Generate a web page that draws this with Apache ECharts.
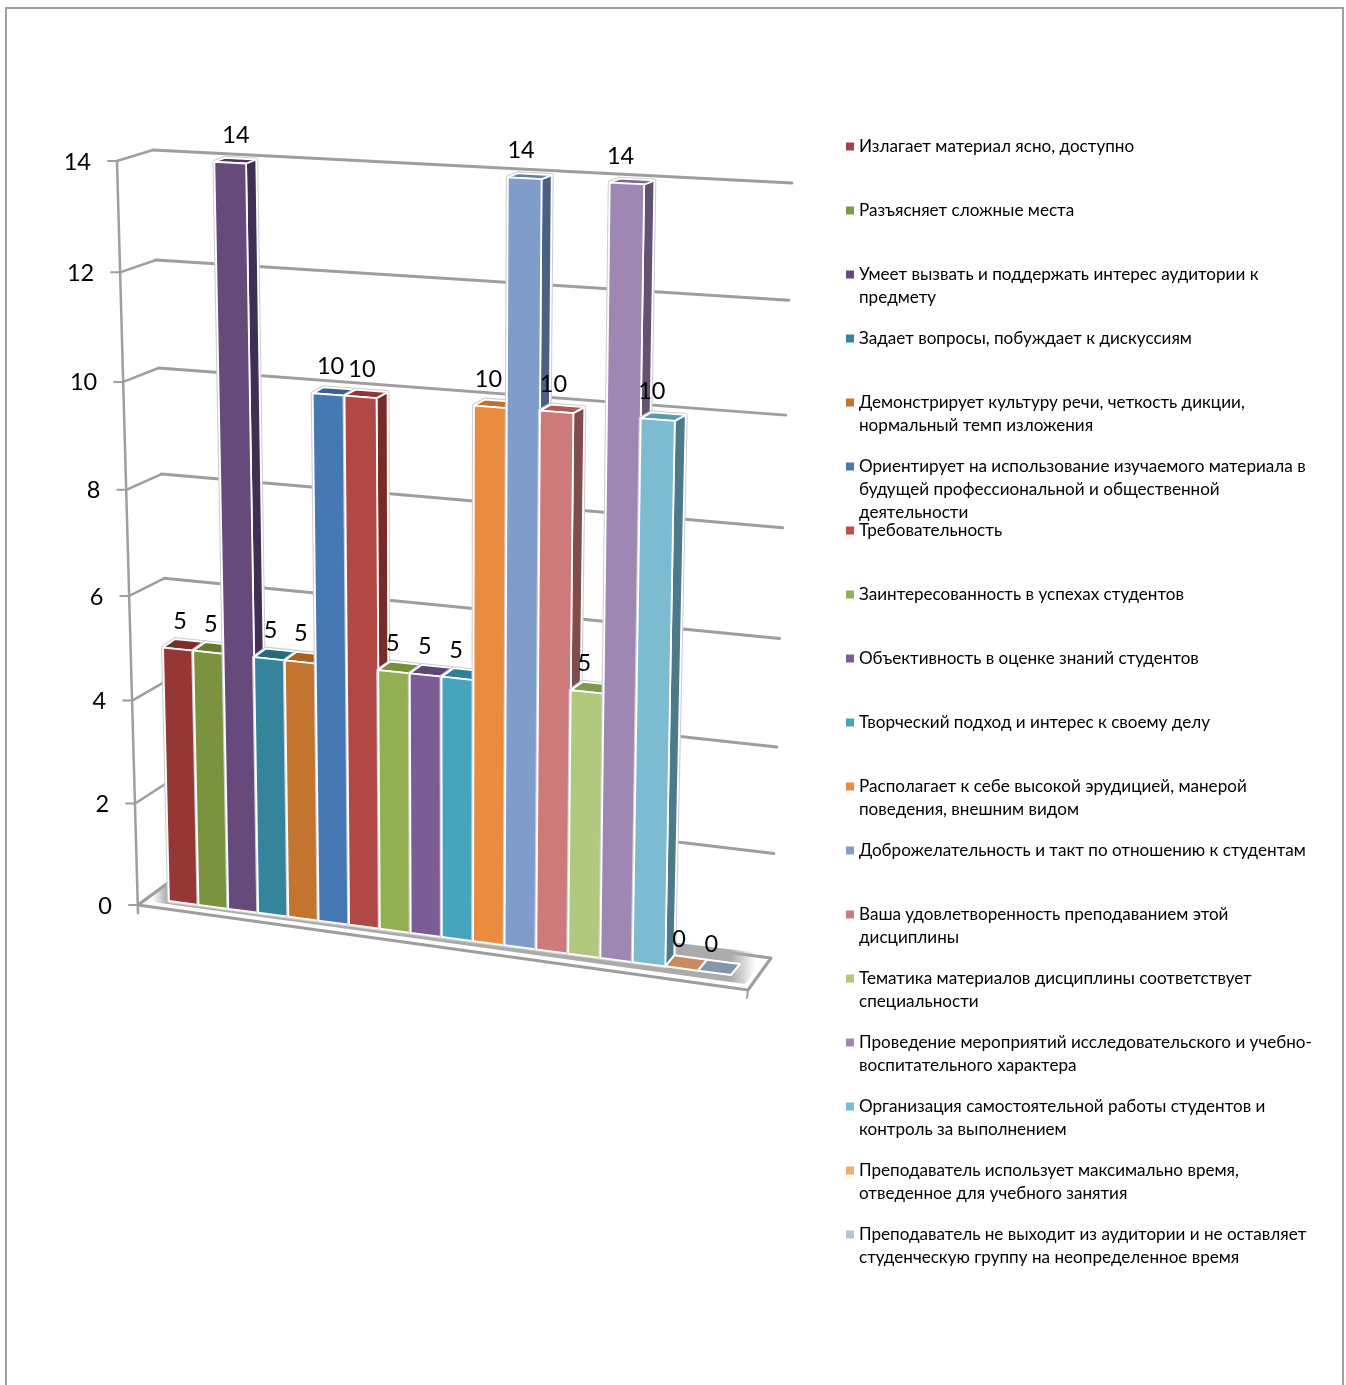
<!DOCTYPE html>
<html><head><meta charset="utf-8">
<style>html,body{margin:0;padding:0;background:#fff}#c{width:1346px;height:1385px}</style>
<script src="https://cdn.jsdelivr.net/npm/echarts@6/dist/echarts.min.js"></script></head>
<body><div id="c"></div>
<script>
const CATEGORIES = [
"Излагает материал ясно, доступно",
"Разъясняет сложные места",
"Умеет вызвать и поддержать интерес аудитории к\nпредмету",
"Задает вопросы, побуждает к дискуссиям",
"Демонстрирует культуру речи, четкость дикции,\nнормальный темп изложения",
"Ориентирует на использование изучаемого материала в\nбудущей профессиональной и общественной\nдеятельности",
"Требовательность",
"Заинтересованность в успехах студентов",
"Объективность в оценке знаний студентов",
"Творческий подход и интерес к своему делу",
"Располагает к себе высокой эрудицией, манерой\nповедения, внешним видом",
"Доброжелательность и такт по отношению к студентам",
"Ваша удовлетворенность преподаванием этой\nдисциплины",
"Тематика материалов дисциплины соответствует\nспециальности",
"Проведение мероприятий исследовательского и учебно-\nвоспитательного характера",
"Организация самостоятельной работы студентов и\nконтроль за выполнением",
"Преподаватель использует максимально время,\nотведенное для учебного занятия",
"Преподаватель не выходит из аудитории и не оставляет\nстуденческую группу на неопределенное время"];
const VALUES = [5,5,14,5,5,10,10,5,5,5,10,14,10,5,14,10,0,0];
const TICKS = [0,2,4,6,8,10,12,14];
const LEGEND_COLORS = ["#a04441","#7f9a48","#664a7c","#34859b","#c3742f","#4678b4","#bb4d4b","#92b052","#7b5c96","#46a4bc","#ea8c3f","#7f9cca","#cd7b7a","#b1c87f","#9e88b3","#7dbcd0","#f4a96d","#b5c2dc"];
const FRONT_COLORS = ["#953735","#7b923e","#664a7c","#34859b","#c3742f","#4678b4","#b24846","#92b052","#7b5c96","#46a4bc","#ea8c3f","#7f9cca","#cd7b7a","#b1c87f","#9e88b3","#7dbcd0","#c98a5e","#8496ae"];
const TOP_COLORS = ["#7c2e2c","#66792f","#4b3560","#276a7e","#a96020","#386090","#8f3533","#74903a","#5f4578","#317f96","#c07028","#6080b0","#a85c5c","#7d9a4a","#7d6a94","#5a9ab0","#c98a5e","#8496ae"];
const SIDE_COLORS = ["#6b2826","#586a2c","#3f2f52","#245f70","#8c5522","#325780","#772c2a","#68803a","#58426c","#327588","#a86a2c","#4c6080","#804c4c","#7f9050","#635370","#4c7a8a","#999","#999"];
const LABEL_SHIFT = [2,3,7,3,3,5,5,3,4,4,4,3,4,5,2,3,7,7];
const FONT = 'Lato, "Open Sans", "Noto Sans", sans-serif';
const WALL = '#9e9e9e';

function homography(q){
  const [x0,y0]=q[0],[x1,y1]=q[1],[x2,y2]=q[2],[x3,y3]=q[3];
  const dx1=x1-x2,dx2=x3-x2,dy1=y1-y2,dy2=y3-y2,sx=x0-x1+x2-x3,sy=y0-y1+y2-y3;
  const den=dx1*dy2-dx2*dy1;
  const g=(sx*dy2-dx2*sy)/den,h=(dx1*sy-sx*dy1)/den;
  const a=x1-x0+g*x1,b=x3-x0+h*x3,d=y1-y0+g*y1,e=y3-y0+h*y3;
  return (u,v)=>{const w=g*u+h*v+1;return [(a*u+b*v+x0)/w,(d*u+e*v+y0)/w];};
}
// planes of the 3D box: [u=0,v=0],[u=1,v=0],[u=1,v=1],[u=0,v=1]
const barPlane  = homography([[169,901],[731,975],[749,190],[151.5,158.5]]);
const backWall  = homography([[172,880],[771,958],[792,183],[153,150]]);
const frontAxis = homography([[138,905],[172,885.5],[153,144.5],[117,161]]);
const vWarp = n => n/(n+1.01*(1-n));
const depth = v => v===0 ? [9,-11] : [13-0.2*v, -11+0.5*v];

function poly(points,fill,stroke,lw){
  return {type:'polygon',shape:{points},style:{fill,stroke:stroke||null,lineWidth:lw||0,lineJoin:'round'},silent:true};
}
function line(a,b,color,lw){
  return {type:'line',shape:{x1:a[0],y1:a[1],x2:b[0],y2:b[1]},style:{stroke:color,lineWidth:lw,lineCap:'round'},silent:true};
}
const toUnit=(params,api,t,v)=>{
  const p=api.coord([t,v]), c=params.coordSys;
  return [(p[0]-c.x)/c.width, 1-(p[1]-c.y)/c.height];
};

function renderWall(params,api){
  const v=api.value(0);
  const uv=toUnit(params,api,0,v), uvEnd=toUnit(params,api,18,v);
  const back0=backWall(uv[0],uv[1]), back1=backWall(uvEnd[0],uvEnd[1]);
  const front=frontAxis(0,uv[1]);
  const kids=[];
  if(v===0){
    const zeroEnd=[748,990];
    kids.push(poly([front,back0,back1,zeroEnd],'#fff',WALL,3));
    kids.push({type:'polygon',silent:true,shape:{points:[[146,901],[745,984],[768,954],[172,881]]},style:{
      fill:{type:'linear',x:0,y:0,x2:1,y2:0,colorStops:[
        {offset:0.01,color:'rgba(170,170,170,0)'},{offset:.034,color:'#ababab'},
        {offset:.94,color:'#ababab'},{offset:.98,color:'rgba(170,170,170,0)'}]}}});
    kids.push(line(zeroEnd,[zeroEnd[0]-1,zeroEnd[1]+8],WALL,2));
    const top=frontAxis(0,1);
    kids.push(line(top,[front[0],front[1]+8],WALL,2.5));
  } else {
    kids.push(line(back0,back1,WALL,3));
  }
  kids.push(line(front,back0,WALL,2.5));
  kids.push(line([front[0]-9,front[1]],front,WALL,2));
  kids.push({type:'text',silent:true,style:{text:String(v),x:front[0]-26,y:front[1]+1,align:'right',verticalAlign:'middle',font:'23.5px '+FONT,fill:'#000'}});
  return {type:'group',children:kids};
}

function renderBar(params,api){
  const t=api.value(0), v=api.value(1), i=params.seriesIndex-1;
  const P=(tt,vv)=>{const n=toUnit(params,api,tt,vv);return barPlane(n[0],vWarp(n[1]));};
  const add=(p,d)=>[p[0]+d[0],p[1]+d[1]];
  const dv=depth(v), d0=depth(0);
  const fl=P(t,v),fr=P(t+1,v),bl=P(t,0),br=P(t+1,0);
  const kids=[];
  const E='#ffffff', lw=1.8;
  if(v>0){
    kids.push(poly([bl,br,add(br,d0),add(fr,dv),add(fl,dv),fl],'none','#cfcfcf',4));
    kids.push(poly([br,fr,add(fr,dv),add(br,d0)],SIDE_COLORS[i],E,lw));
    kids.push(poly([fl,fr,add(fr,dv),add(fl,dv)],TOP_COLORS[i],E,lw));
    kids.push(poly([bl,br,fr,fl],FRONT_COLORS[i],E,lw));
  } else {
    kids.push(poly([fl,fr,add(fr,dv),add(fl,dv)],TOP_COLORS[i],E,2));
  }
  const cx=(fl[0]+fr[0])/2;
  kids.push({type:'text',silent:true,z2:10,style:{text:String(v),x:cx-9*t/15+LABEL_SHIFT[i],y:fl[1]-26.5,align:'center',verticalAlign:'middle',font:'23.5px '+FONT,fill:'#000'}});
  return {type:'group',children:kids};
}

const series=[{name:'walls',type:'custom',coordinateSystem:'cartesian2d',clip:false,silent:true,
  encode:{x:-1,y:0},data:TICKS.map(v=>[v]),renderItem:renderWall}];
CATEGORIES.forEach((name,i)=>series.push({name,type:'custom',coordinateSystem:'cartesian2d',clip:false,silent:true,
  itemStyle:{color:LEGEND_COLORS[i]},encode:{x:0,y:1},data:[[i,VALUES[i]]],renderItem:renderBar}));

const LH=23;
const legends=CATEGORIES.map((name,i)=>{
  const n=name.split('\n').length, H=LH*n;
  const icon=`path://M0 0L.01 0L0 .01Z M0 7.5L8 7.5L8 15.5L0 15.5Z M0 ${H}L.01 ${H}L0 ${H-.01}Z`;
  return {data:[{name,icon}],left:846,top:146.5+64*i-LH/2,padding:0,itemWidth:8,itemHeight:H,selectedMode:false,orient:'vertical',
    textStyle:{fontFamily:FONT,fontSize:17.1,lineHeight:LH,color:'#000'}};
});

const chart=echarts.init(document.getElementById('c'),null,{renderer:'canvas'});
chart.setOption({
  animation:false,backgroundColor:'#fff',
  grid:{left:0,top:0,width:1000,height:1000,containLabel:false},
  xAxis:{type:'value',min:0,max:18,show:false},
  yAxis:{type:'value',min:0,max:14,interval:2,show:false},
  legend:legends,
  series,
  graphic:[{type:'rect',silent:true,shape:{x:6,y:8,width:1337,height:1400},style:{fill:null,stroke:'#a0a0a0',lineWidth:2},z:-1}]
});
</script></body></html>
